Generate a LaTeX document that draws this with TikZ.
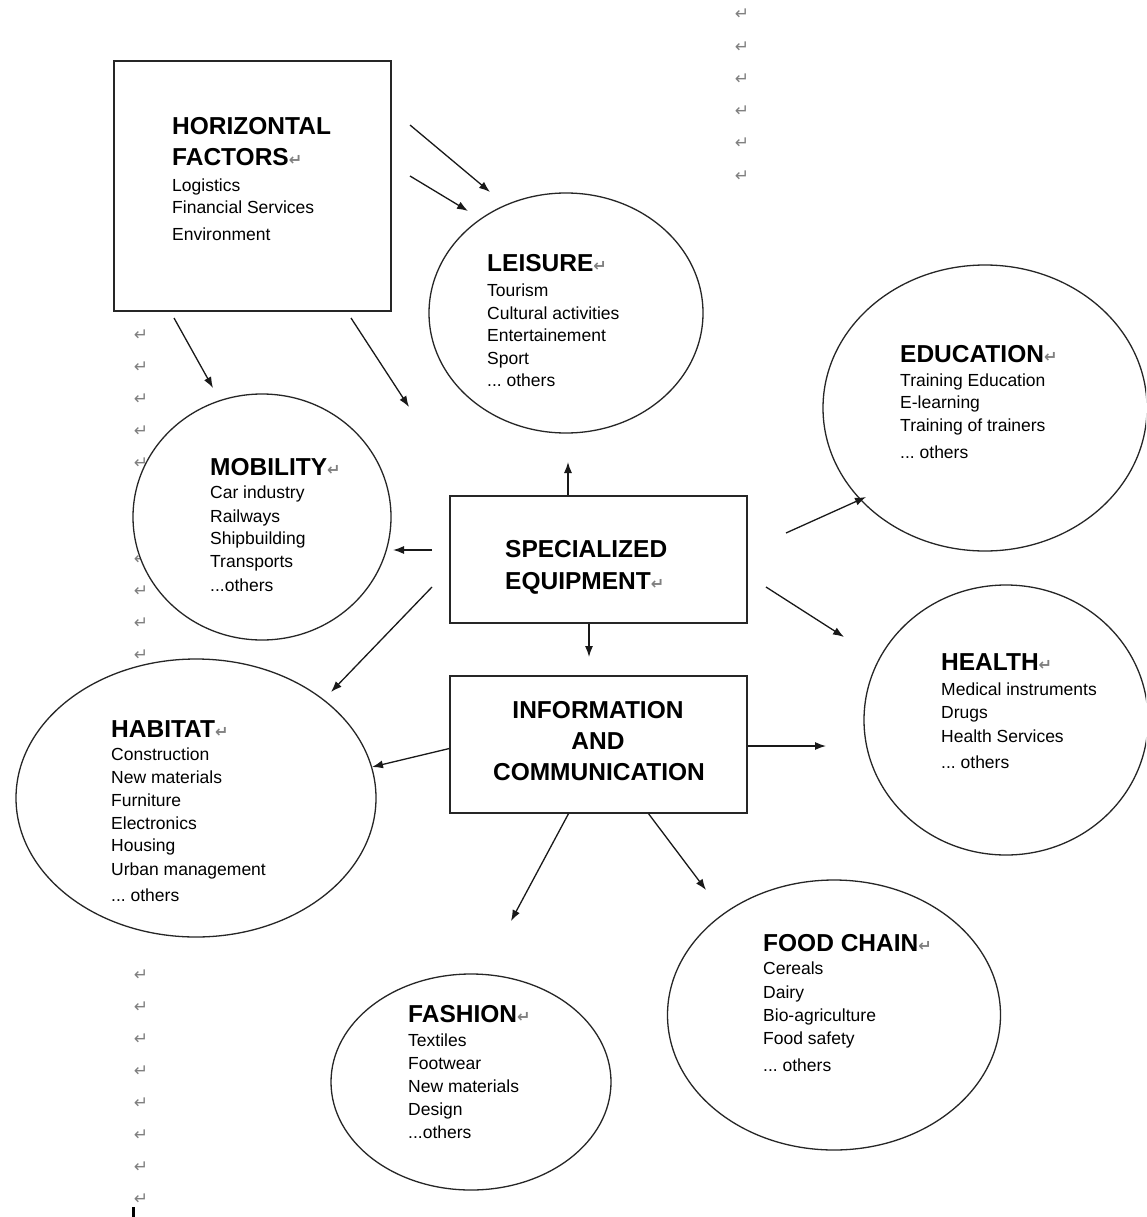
\documentclass[tikz,border=0pt]{standalone}
\usepackage{fontspec}
\setmainfont{Liberation Sans}
\newfontfamily\symfnt{DejaVu Sans}
\usetikzlibrary{shapes.geometric,arrows.meta,calc}
\newcommand\parmk{{\symfnt\fontsize{16}{16}\selectfont\color{black!50}↵}}
\newcommand\mydots{...}
\tikzset{
  shp/.style={draw=black!85, line width=1.3pt, fill=white},
  oval/.style={shp, ellipse, inner sep=0pt},
  boxx/.style={shp, rectangle, inner sep=0pt},
  head/.style={anchor=base west, inner sep=0pt, font=\fontsize{24.5}{29}\selectfont\bfseries},
  boxtxt/.style={anchor=base, inner sep=0pt, font=\fontsize{24.5}{29}\selectfont\bfseries},
  item/.style={anchor=base west, inner sep=0pt, font=\fontsize{17.5}{21}\selectfont},
  pmark/.style={inner sep=0pt, text=black!50, font=\symfnt\fontsize{17}{17}\selectfont},
  arr/.style={line width=1.3pt, draw=black!90, -{Latex[length=11pt,width=8pt]}},
}
\begin{document}
\begin{tikzpicture}[x=1pt,y=-1pt]
\useasboundingbox (0,0) rectangle (1146,1217);
\fill[white] (0,0) rectangle (1146,1217);
\clip (0,0) rectangle (1146,1217);

% paragraph marks of the page
\foreach \y [count=\i] in {335,367,...,655} \node[pmark] (lm-\i) at (141,\y) {↵};
\foreach \y [count=\i] in {975,1007,...,1199} \node[pmark] (lb-\i) at (141,\y) {↵};
\foreach \y [count=\i] in {14,47,79,111,143,176} \node[pmark] (tm-\i) at (742,\y) {↵};
\fill[black] (132,1207) rectangle (135,1217);

% shapes
\node[boxx, minimum width=277pt, minimum height=250pt] (hf) at (252.5,186) {};
\node[oval, minimum width=274pt, minimum height=240pt] (leisure) at (566,313) {};
\node[oval, minimum width=324pt, minimum height=286pt] (edu) at (985,408) {};
\node[oval, minimum width=258pt, minimum height=246pt] (mob) at (262,517) {};
\node[boxx, minimum width=297pt, minimum height=127pt] (se) at (598.5,559.5) {};
\node[boxx, minimum width=297pt, minimum height=137pt] (ic) at (598.5,744.5) {};
\node[oval, minimum width=284pt, minimum height=270pt] (health) at (1006,720) {};
\node[oval, minimum width=360pt, minimum height=278pt] (habitat) at (196,798) {};
\node[oval, minimum width=280pt, minimum height=216pt] (fashion) at (471,1082) {};
\node[oval, minimum width=333pt, minimum height=270pt] (food) at (834,1015) {};

% texts
\node[head] (hf-h1) at (172,135) {HORIZONTAL};
\node[head] (hf-h2) at (172,166) {FACTORS\parmk};
\foreach \t/\y [count=\i] in {Logistics/191, Financial Services/213, Environment/240}
  \node[item] (hf-\i) at (172,\y) {\t};

\node[head] (lei-h) at (487,271) {LEISURE\parmk};
\foreach \t/\y [count=\i] in {Tourism/296, Cultural activities/319, Entertainement/341, Sport/364, \mydots\ others/386}
  \node[item] (lei-\i) at (487,\y) {\t};

\node[head] (edu-h) at (900,362) {EDUCATION\parmk};
\foreach \t/\y [count=\i] in {Training Education/386, E-learning/408, Training of trainers/431, \mydots\ others/458}
  \node[item] (edu-\i) at (900,\y) {\t};

\node[head] (mob-h) at (210,475) {MOBILITY\parmk};
\foreach \t/\y [count=\i] in {Car industry/498, Railways/522, Shipbuilding/544, Transports/567, \mydots others/591}
  \node[item] (mob-\i) at (210,\y) {\t};

\node[head] (hea-h) at (941,670) {HEALTH\parmk};
\foreach \t/\y [count=\i] in {Medical instruments/695, Drugs/718, Health Services/742, \mydots\ others/768}
  \node[item] (hea-\i) at (941,\y) {\t};

\node[head] (hab-h) at (111,737) {HABITAT\parmk};
\foreach \t/\y [count=\i] in {Construction/760, New materials/783, Furniture/806, Electronics/829, Housing/851, Urban management/875, \mydots\ others/901}
  \node[item] (hab-\i) at (111,\y) {\t};

\node[head] (fas-h) at (408,1022) {FASHION\parmk};
\foreach \t/\y [count=\i] in {Textiles/1046, Footwear/1069, New materials/1092, Design/1115, \mydots others/1138}
  \node[item] (fas-\i) at (408,\y) {\t};

\node[head] (food-h) at (763,951) {FOOD CHAIN\parmk};
\foreach \t/\y [count=\i] in {Cereals/974, Dairy/998, Bio-agriculture/1021, Food safety/1044, \mydots\ others/1071}
  \node[item] (food-\i) at (763,\y) {\t};

\node[head] (se-1) at (505,557) {SPECIALIZED};
\node[head] (se-2) at (505,589) {EQUIPMENT\parmk};
\node[boxtxt] (ic-1) at (598,718) {INFORMATION};
\node[boxtxt] (ic-2) at (598,749) {AND};
\node[boxtxt] (ic-3) at (599,780) {COMMUNICATION};

% arrow end points
\coordinate (a1s) at (410,125);  \coordinate (a1e) at (490,192);
\coordinate (a2s) at (410,176);  \coordinate (a2e) at (468,211);
\coordinate (a3s) at (174,318);  \coordinate (a3e) at (213,388);
\coordinate (a4s) at (351,318);  \coordinate (a4e) at (409,407);
\coordinate (a5e) at (568,462);
\coordinate (a6s) at (432,550);  \coordinate (a6e) at (393,550);
\coordinate (a7e) at (589,657);
\coordinate (a8s) at (432,587);  \coordinate (a8e) at (331,692);
\coordinate (a9s) at (786,533);  \coordinate (a9e) at (866,497);
\coordinate (a10s) at (766,587); \coordinate (a10e) at (844,637);
\coordinate (a11e) at (372,767);
\coordinate (a12e) at (826,746);
\coordinate (a13e) at (511,921);
\coordinate (a14e) at (706,890);

% connectors
\draw[arr] (a1s) -- (a1e);
\draw[arr] (a2s) -- (a2e);
\draw[arr] (a3s) -- (a3e);
\draw[arr] (a4s) -- (a4e);
\draw[arr] (a5e |- se.north) -- (a5e);
\draw[arr] (a6s) -- (a6e);
\draw[arr] (a7e |- se.south) -- (a7e);
\draw[arr] (a8s) -- (a8e);
\draw[arr] (a9s) -- (a9e);
\draw[arr] (a10s) -- (a10e);
\draw[arr] ($(ic.west)+(0,4)$) -- (a11e);
\draw[arr] ($(ic.east)+(0,1.5)$) -- (a12e);
\draw[arr] ($(ic.south)+(-30,0)$) -- (a13e);
\draw[arr] ($(ic.south)+(50,0)$) -- (a14e);
\end{tikzpicture}
\end{document}
